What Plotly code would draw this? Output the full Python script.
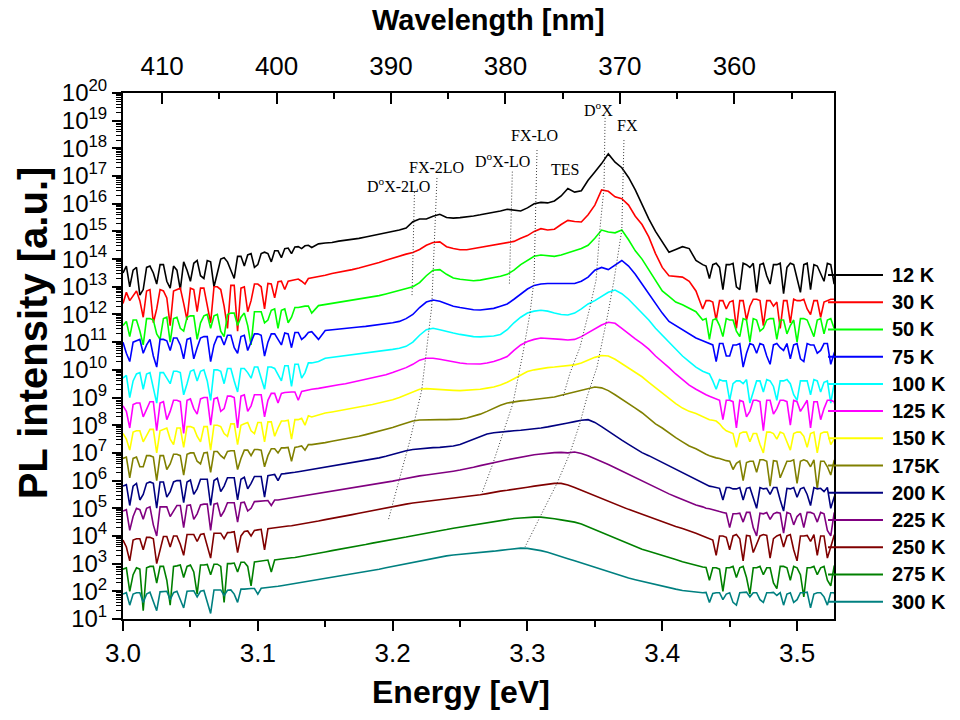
import plotly.graph_objects as go

# ---------------- data (log10 of PL intensity) ----------------
energy_ev = [round(3.0 + 0.005 * i, 3) for i in range(107)]
# extra read-out positions in the noisy low- and high-energy ends
energy_left_mid = [round(3.0025 + 0.005 * k, 4) for k in range(28)]
energy_right_mid = [round(3.4325 + 0.005 * k, 4) for k in range(20)]

temperatures = ["12 K", "30 K", "50 K", "75 K", "100 K", "125 K", "150 K",
                "175K", "200 K", "225 K", "250 K", "275 K", "300 K"]
colors = ["#000000", "#FF0000", "#00FF00", "#0000FF", "#00FFFF", "#FF00FF", "#FFFF00",
          "#808000", "#000080", "#800080", "#800000", "#008000", "#008080"]

log_12K = [13.5, 13.0, 13.7, 12.9, 13.75, 13.1, 13.8, 12.95, 13.6, 13.9,
           13.2, 13.95, 13.3, 13.9, 13.5, 14.05, 13.6, 14.1, 13.75, 14.2,
           13.8, 14.25, 13.9, 14.3, 14.38, 14.2, 14.45, 14.48, 14.42, 14.55,
           14.58, 14.6, 14.65, 14.68, 14.72, 14.75, 14.8, 14.85, 14.88, 14.95,
           15.0, 15.05, 15.12, 15.35, 15.45, 15.45, 15.55, 15.62, 15.5, 15.48,
           15.5, 15.52, 15.56, 15.6, 15.64, 15.68, 15.74, 15.8, 15.76, 15.74,
           15.85, 16.0, 16.05, 16.03, 16.1, 16.28, 16.55, 16.42, 16.47, 16.85,
           17.15, 17.45, 17.8, 17.5, 17.3, 16.95, 16.5, 15.95, 15.45, 15.0,
           14.6, 14.25, 14.35, 14.45, 14.38, 13.95, 13.8, 13.3, 13.85, 12.9,
           13.8, 13.0, 13.85, 13.7, 12.8, 13.85, 13.1, 13.8, 12.75, 13.85,
           13.3, 13.8, 12.9, 13.75, 13.2, 13.8, 13.6]
log_30K = [12.4, 12.5, 12.85, 11.9, 12.9, 12.2, 12.85, 11.6, 12.9, 12.4,
           12.95, 12.1, 12.95, 11.7, 13.0, 12.3, 13.05, 11.4, 13.0, 12.5,
           13.1, 12.2, 13.1, 13.18, 12.9, 13.22, 13.28, 13.1, 13.32, 13.38,
           13.42, 13.48, 13.52, 13.58, 13.62, 13.68, 13.74, 13.8, 13.88, 13.96,
           14.04, 14.12, 14.18, 14.24, 14.35, 14.5, 14.6, 14.62, 14.45, 14.38,
           14.34, 14.34, 14.38, 14.42, 14.46, 14.5, 14.55, 14.6, 14.64, 14.75,
           14.85, 15.0, 15.1, 15.05, 15.08, 15.25, 15.4, 15.36, 15.34, 15.6,
           15.95, 16.5, 16.45, 16.25, 16.18, 15.95, 15.55, 15.25, 14.8, 14.2,
           13.7, 13.4, 13.38, 13.35, 13.2, 12.85, 12.2, 12.5, 11.8, 12.5,
           12.45, 11.5, 12.5, 12.3, 12.55, 11.6, 12.5, 12.45, 12.5, 11.7,
           12.5, 12.55, 12.0, 12.5, 12.45, 12.55, 12.5]
log_50K = [11.6, 11.2, 11.8, 10.9, 11.85, 11.3, 11.85, 11.0, 11.9, 11.4,
           11.95, 11.1, 11.95, 11.5, 12.0, 11.2, 12.05, 11.6, 12.05, 10.9,
           12.1, 11.7, 12.15, 11.5, 12.2, 11.9, 12.25, 12.3, 12.05, 12.32,
           12.36, 12.4, 12.43, 12.46, 12.5, 12.54, 12.58, 12.62, 12.68, 12.74,
           12.8, 12.86, 12.92, 13.0, 13.15, 13.4, 13.6, 13.62, 13.45, 13.32,
           13.27, 13.24, 13.22, 13.24, 13.28, 13.32, 13.38, 13.45, 13.6, 13.8,
           13.95, 14.1, 14.15, 14.12, 14.1, 14.15, 14.22, 14.3, 14.38, 14.5,
           14.75, 15.05, 14.98, 14.95, 15.05, 14.7, 14.3, 14.0, 13.6, 13.25,
           12.85, 12.65, 12.45, 12.35, 12.22, 12.1, 11.8, 11.1, 11.85, 11.2,
           11.8, 11.4, 11.85, 11.0, 11.8, 11.5, 11.85, 11.1, 11.8, 11.6,
           11.0, 11.85, 11.5, 11.8, 11.3, 11.85, 11.7]
log_75K = [11.0, 10.3, 11.05, 10.6, 11.1, 10.1, 11.1, 10.7, 11.15, 10.4,
           11.15, 10.8, 11.2, 10.3, 11.2, 10.9, 11.25, 10.6, 11.25, 11.0,
           11.3, 10.5, 11.3, 11.1, 11.33, 10.8, 11.35, 11.2, 11.38, 11.1,
           11.42, 11.45, 11.47, 11.5, 11.52, 11.55, 11.57, 11.6, 11.63, 11.66,
           11.7, 11.75, 11.85, 12.0, 12.25, 12.45, 12.52, 12.48, 12.38, 12.3,
           12.25, 12.2, 12.17, 12.16, 12.18, 12.22, 12.3, 12.38, 12.55, 12.75,
           12.92, 13.05, 13.1, 13.12, 13.12, 13.11, 13.1, 13.12, 13.2, 13.35,
           13.6, 13.7, 13.62, 13.8, 13.95, 13.75, 13.45, 13.1, 12.75, 12.4,
           12.05, 11.75, 11.6, 11.45, 11.3, 11.15, 11.05, 10.95, 10.3, 10.95,
           10.5, 10.9, 10.1, 10.95, 10.6, 10.9, 10.2, 10.95, 10.7, 10.4,
           10.95, 10.3, 10.9, 10.6, 10.95, 10.2, 10.9]
log_100K = [9.7, 9.0, 9.85, 9.3, 9.9, 8.8, 9.9, 9.5, 9.95, 9.1,
            9.95, 9.6, 10.0, 8.9, 10.0, 9.5, 10.05, 9.2, 10.05, 9.7,
            10.1, 9.3, 10.1, 9.8, 10.15, 9.4, 10.2, 9.9, 10.25, 10.3,
            10.42, 10.45, 10.5, 10.52, 10.55, 10.58, 10.6, 10.63, 10.66, 10.7,
            10.74, 10.78, 10.85, 11.0, 11.25, 11.45, 11.5, 11.45, 11.38, 11.33,
            11.28, 11.24, 11.2, 11.19, 11.2, 11.22, 11.28, 11.45, 11.7, 11.9,
            12.05, 12.12, 12.15, 12.12, 12.05, 12.0, 11.98, 12.05, 12.2, 12.38,
            12.5, 12.65, 12.8, 12.88, 12.75, 12.55, 12.3, 12.05, 11.8, 11.5,
            11.25, 11.0, 10.75, 10.5, 10.3, 10.1, 9.95, 9.85, 9.3, 9.6,
            8.9, 9.6, 9.5, 8.8, 9.6, 9.2, 9.6, 8.9, 9.6, 9.5,
            8.9, 9.6, 9.1, 9.6, 9.55, 8.8, 9.6]
log_125K = [8.7, 7.9, 8.8, 8.3, 8.85, 7.8, 8.85, 8.5, 8.9, 7.7,
            8.95, 8.4, 9.0, 8.0, 9.0, 8.6, 9.05, 7.9, 9.1, 8.7,
            9.1, 8.3, 9.15, 8.8, 9.18, 9.2, 8.9, 9.25, 9.3, 9.33,
            9.38, 9.42, 9.46, 9.5, 9.55, 9.6, 9.65, 9.7, 9.75, 9.82,
            9.9, 9.98, 10.08, 10.2, 10.35, 10.42, 10.42, 10.38, 10.33, 10.28,
            10.25, 10.22, 10.21, 10.21, 10.25, 10.3, 10.38, 10.48, 10.7, 10.9,
            11.02, 11.1, 11.15, 11.14, 11.12, 11.1, 11.08, 11.1, 11.2, 11.35,
            11.5, 11.62, 11.72, 11.68, 11.5, 11.3, 11.12, 10.95, 10.75, 10.5,
            10.3, 10.08, 9.85, 9.65, 9.45, 9.3, 9.15, 9.05, 8.95, 8.2,
            8.9, 7.9, 8.85, 8.5, 8.9, 7.8, 8.9, 8.6, 8.9, 8.0,
            8.85, 8.7, 7.9, 8.85, 8.6, 8.9, 8.4]
log_150K = [7.7, 7.1, 7.8, 7.4, 7.85, 7.0, 7.85, 7.5, 7.9, 7.2,
            7.95, 7.6, 7.95, 7.1, 8.0, 7.7, 8.05, 7.3, 8.05, 7.8,
            8.1, 7.4, 8.12, 7.9, 8.15, 7.5, 8.2, 8.0, 8.3, 8.38,
            8.44, 8.48, 8.52, 8.56, 8.6, 8.65, 8.7, 8.75, 8.8, 8.86,
            8.92, 9.0, 9.1, 9.2, 9.3, 9.32, 9.3, 9.28, 9.27, 9.26,
            9.25, 9.26, 9.28, 9.3, 9.34, 9.38, 9.45, 9.55, 9.68, 9.82,
            9.94, 10.0, 10.05, 10.08, 10.1, 10.12, 10.15, 10.18, 10.25, 10.35,
            10.45, 10.52, 10.5, 10.38, 10.22, 10.05, 9.9, 9.75, 9.55, 9.35,
            9.15, 8.95, 8.78, 8.62, 8.5, 8.42, 8.3, 8.2, 8.15, 7.9,
            7.75, 7.2, 7.75, 7.4, 7.7, 7.0, 7.75, 7.5, 7.7, 7.1,
            7.75, 7.6, 7.7, 7.0, 7.75, 7.3, 7.7]
log_175K = [6.8, 6.1, 6.85, 6.5, 6.9, 6.0, 6.9, 6.6, 6.95, 6.2,
            7.0, 6.7, 7.0, 6.3, 7.05, 6.8, 7.08, 6.4, 7.1, 6.9,
            7.12, 6.5, 7.15, 7.0, 7.18, 6.7, 7.22, 7.1, 7.3, 7.33,
            7.37, 7.42, 7.46, 7.5, 7.55, 7.6, 7.66, 7.72, 7.78, 7.85,
            7.92, 8.0, 8.08, 8.15, 8.19, 8.2, 8.2, 8.2, 8.2, 8.2,
            8.22, 8.26, 8.32, 8.4, 8.5, 8.62, 8.72, 8.8, 8.85, 8.88,
            8.9, 8.93, 8.96, 8.98, 9.02, 9.08, 9.14, 9.2, 9.28, 9.34,
            9.38, 9.35, 9.25, 9.1, 8.95, 8.8, 8.62, 8.45, 8.25, 8.05,
            7.9, 7.72, 7.55, 7.4, 7.25, 7.15, 7.0, 6.9, 6.82, 6.75,
            6.7, 6.62, 6.0, 6.7, 6.3, 6.75, 5.8, 6.7, 6.4, 6.7,
            5.9, 6.75, 6.5, 5.7, 6.7, 6.2, 6.7]
log_200K = [5.8, 5.1, 5.9, 5.5, 5.95, 5.0, 5.95, 5.6, 6.0, 5.2,
            6.02, 5.7, 6.05, 5.1, 6.08, 5.8, 6.1, 5.3, 6.12, 5.9,
            6.15, 5.4, 6.2, 6.0, 6.25, 6.28, 6.32, 6.36, 6.4, 6.44,
            6.48, 6.52, 6.56, 6.6, 6.64, 6.68, 6.72, 6.76, 6.82, 6.88,
            6.95, 7.02, 7.08, 7.12, 7.15, 7.17, 7.19, 7.2, 7.22, 7.25,
            7.3, 7.4, 7.5, 7.6, 7.68, 7.73, 7.76, 7.78, 7.8, 7.82,
            7.84, 7.87, 7.9, 7.94, 7.98, 8.03, 8.08, 8.13, 8.18, 8.2,
            8.1, 7.95, 7.78, 7.6, 7.46, 7.31, 7.16, 7.01, 6.9, 6.78,
            6.66, 6.54, 6.42, 6.3, 6.17, 6.05, 5.92, 5.8, 5.75, 5.3,
            5.75, 5.7, 5.3, 5.75, 5.0, 5.7, 5.5, 5.75, 4.9, 5.7,
            5.4, 5.75, 5.1, 5.7, 5.6, 5.0, 5.7]
log_225K = [4.9, 4.2, 5.0, 4.6, 5.05, 4.0, 5.05, 4.7, 5.1, 4.3,
            5.12, 4.8, 5.15, 4.2, 5.18, 4.9, 5.2, 4.5, 5.22, 5.0,
            5.25, 5.27, 5.1, 5.3, 5.33, 5.36, 5.4, 5.44, 5.48, 5.52,
            5.56, 5.6, 5.64, 5.68, 5.72, 5.76, 5.8, 5.84, 5.88, 5.93,
            5.98, 6.03, 6.08, 6.13, 6.17, 6.2, 6.23, 6.26, 6.3, 6.34,
            6.38, 6.42, 6.48, 6.54, 6.6, 6.65, 6.7, 6.75, 6.8, 6.85,
            6.89, 6.93, 6.96, 6.99, 7.01, 7.02, 7.0, 7.03, 6.98, 6.9,
            6.8, 6.7, 6.58, 6.46, 6.34, 6.22, 6.1, 5.98, 5.86, 5.74,
            5.62, 5.52, 5.42, 5.32, 5.22, 5.12, 5.05, 4.98, 4.9, 4.85,
            4.3, 4.8, 4.5, 4.85, 4.0, 4.8, 4.6, 4.85, 4.1, 4.8,
            4.7, 4.3, 4.85, 4.5, 4.8, 4.0, 4.8]
log_250K = [3.85, 3.1, 3.9, 3.5, 3.95, 3.0, 3.98, 3.6, 4.0, 3.3,
            4.05, 3.8, 4.08, 3.2, 4.1, 3.9, 4.13, 3.4, 4.16, 4.0,
            4.22, 3.5, 4.28, 4.31, 4.34, 4.37, 4.4, 4.45, 4.49, 4.54,
            4.59, 4.63, 4.68, 4.73, 4.77, 4.82, 4.87, 4.91, 4.96, 5.01,
            5.05, 5.1, 5.15, 5.19, 5.22, 5.25, 5.28, 5.3, 5.33, 5.36,
            5.38, 5.42, 5.45, 5.49, 5.53, 5.58, 5.62, 5.65, 5.68, 5.72,
            5.76, 5.8, 5.84, 5.88, 5.9, 5.9, 5.84, 5.75, 5.65, 5.55,
            5.44, 5.35, 5.26, 5.16, 5.06, 4.96, 4.87, 4.78, 4.69, 4.6,
            4.5, 4.42, 4.34, 4.27, 4.19, 4.1, 4.0, 3.9, 3.3, 4.0,
            3.5, 4.05, 3.1, 4.0, 3.7, 4.05, 3.2, 4.0, 3.6, 4.05,
            3.1, 4.0, 3.8, 3.3, 4.0, 3.6, 4.0]
log_275K = [2.8, 2.0, 2.85, 1.3, 2.9, 2.3, 2.9, 1.5, 2.92, 2.5,
            2.95, 1.9, 2.95, 2.6, 2.98, 1.6, 3.0, 2.7, 3.05, 2.2,
            3.08, 3.11, 2.7, 3.15, 3.18, 3.21, 3.24, 3.29, 3.33, 3.38,
            3.42, 3.47, 3.51, 3.56, 3.6, 3.65, 3.69, 3.74, 3.78, 3.83,
            3.87, 3.92, 3.96, 4.01, 4.05, 4.1, 4.14, 4.19, 4.23, 4.28,
            4.32, 4.36, 4.4, 4.44, 4.49, 4.53, 4.57, 4.6, 4.63, 4.65,
            4.67, 4.68, 4.68, 4.66, 4.62, 4.58, 4.54, 4.5, 4.43, 4.33,
            4.22, 4.12, 4.01, 3.91, 3.82, 3.72, 3.63, 3.52, 3.45, 3.38,
            3.3, 3.22, 3.15, 3.07, 3.0, 2.94, 2.88, 2.4, 2.85, 2.0,
            2.85, 2.5, 2.9, 1.9, 2.85, 2.6, 2.85, 2.1, 2.9, 2.4,
            2.85, 1.8, 2.85, 2.6, 2.9, 2.2, 2.85]
log_300K = [1.9, 1.5, 1.95, 1.6, 1.97, 1.3, 2.0, 1.7, 2.0, 1.4,
            2.02, 1.8, 2.03, 1.2, 2.05, 1.85, 2.05, 1.6, 2.08, 2.1,
            1.9, 2.12, 2.15, 2.18, 2.22, 2.26, 2.3, 2.34, 2.38, 2.42,
            2.46, 2.5, 2.54, 2.58, 2.62, 2.66, 2.7, 2.75, 2.8, 2.85,
            2.9, 2.95, 3.0, 3.05, 3.1, 3.15, 3.2, 3.25, 3.28, 3.31,
            3.33, 3.35, 3.37, 3.39, 3.42, 3.45, 3.48, 3.51, 3.54, 3.56,
            3.55, 3.52, 3.47, 3.41, 3.34, 3.26, 3.18, 3.1, 3.02, 2.94,
            2.86, 2.78, 2.7, 2.62, 2.55, 2.48, 2.42, 2.36, 2.3, 2.24,
            2.18, 2.13, 2.08, 2.03, 2.0, 1.97, 1.95, 1.6, 1.95, 1.7,
            1.95, 1.5, 1.95, 1.8, 1.95, 1.6, 1.95, 1.85, 1.5, 1.95,
            1.7, 1.95, 1.4, 1.95, 1.8, 1.95, 1.6]

# values at the extra positions (energy_left_mid / energy_right_mid)
mid_left_12K = [13.75, 13.6, 12.7, 13.7, 13.5, 13.8, 13.2, 13.75, 12.9, 13.6,
                13.85, 13.4, 13.95, 13.0, 14.0, 13.9, 13.3, 14.1, 14.15, 13.7,
                14.2, 14.2, 14.3, 14.05, 14.4, 14.44, 14.38, 14.5]
mid_left_30K = [12.8, 12.7, 12.5, 12.85, 11.7, 12.9, 12.6, 12.85, 12.95, 11.8,
                12.9, 12.95, 12.3, 13.0, 12.9, 11.5, 13.05, 12.95, 12.1, 13.1,
                13.0, 13.12, 12.6, 13.2, 13.2, 13.25, 13.2, 13.3]
mid_left_50K = [11.75, 11.8, 11.4, 11.85, 11.8, 11.1, 11.9, 11.85, 11.5, 11.9,
                11.95, 11.7, 12.0, 11.95, 11.4, 12.0, 12.05, 11.9, 11.6, 12.1,
                12.1, 11.8, 12.2, 12.15, 11.7, 12.25, 12.28, 12.3]
mid_left_75K = [10.6, 11.0, 11.1, 10.9, 10.5, 11.1, 11.05, 11.15, 10.9, 11.1,
                10.4, 11.15, 11.2, 10.9, 11.2, 11.25, 10.8, 11.2, 10.7, 11.3,
                11.25, 11.0, 11.3, 10.9, 11.3, 11.35, 11.1, 11.35]
mid_left_100K = [9.8, 9.6, 9.9, 9.85, 9.4, 9.9, 9.7, 9.95, 9.9, 9.5,
                 10.0, 9.95, 9.6, 10.0, 9.95, 10.05, 9.6, 10.05, 9.9, 10.1,
                 9.7, 10.1, 10.05, 9.6, 10.15, 10.2, 9.7, 10.25]
mid_left_125K = [8.5, 8.75, 8.8, 8.6, 8.85, 8.8, 8.2, 8.9, 8.85, 8.9,
                 8.6, 8.95, 9.0, 8.95, 8.5, 9.05, 9.0, 9.05, 8.5, 9.1,
                 9.1, 8.9, 9.15, 9.15, 9.2, 9.2, 9.22, 9.28]
mid_left_150K = [7.5, 7.75, 7.8, 7.6, 7.85, 7.8, 7.9, 7.3, 7.9, 7.95,
                 7.9, 7.4, 7.95, 8.0, 7.95, 7.6, 8.05, 8.0, 8.1, 7.7,
                 8.1, 8.12, 7.6, 8.15, 8.18, 8.2, 8.25, 8.34]
mid_left_175K = [6.85, 6.8, 6.5, 6.9, 6.85, 6.9, 6.4, 6.95, 6.9, 6.95,
                 7.0, 6.6, 7.02, 7.05, 6.9, 7.05, 7.08, 6.8, 7.1, 7.12,
                 7.1, 6.9, 7.15, 7.18, 7.2, 7.2, 7.25, 7.3]
mid_left_200K = [5.85, 5.8, 5.3, 5.9, 5.9, 5.95, 5.4, 5.95, 6.0, 5.95,
                 5.5, 6.05, 6.05, 6.0, 5.6, 6.1, 6.1, 6.05, 5.7, 6.15,
                 6.15, 6.18, 6.22, 6.24, 6.26, 6.3, 6.34, 6.38]
mid_left_225K = [4.95, 4.7, 4.95, 5.0, 4.4, 5.05, 5.05, 4.9, 5.1, 5.1,
                 4.6, 5.12, 5.15, 5.15, 4.7, 5.2, 5.2, 5.2, 4.9, 5.24,
                 5.26, 5.28, 5.3, 5.32, 5.35, 5.38, 5.42, 5.46]
mid_left_250K = [3.6, 3.85, 3.9, 3.95, 3.9, 3.5, 3.98, 4.0, 3.7, 4.05,
                 4.05, 4.05, 3.6, 4.1, 4.1, 4.12, 4.15, 4.0, 4.18, 4.2,
                 4.24, 4.26, 4.3, 4.33, 4.36, 4.39, 4.42, 4.47]
mid_left_275K = [2.85, 2.6, 2.8, 2.85, 2.9, 2.9, 2.4, 2.9, 2.95, 2.9,
                 2.7, 2.95, 2.97, 2.98, 2.9, 3.0, 3.02, 3.05, 2.9, 3.06,
                 3.1, 3.13, 3.13, 3.17, 3.2, 3.22, 3.27, 3.31]
mid_left_300K = [1.95, 1.9, 1.95, 1.9, 1.6, 1.98, 2.0, 1.95, 1.7, 2.0,
                 2.02, 2.0, 1.6, 2.05, 2.05, 2.04, 1.9, 2.08, 2.1, 2.1,
                 2.11, 2.13, 2.16, 2.2, 2.24, 2.28, 2.32, 2.36]

mid_right_12K = [13.75, 13.8, 13.7, 13.8, 13.85, 12.9, 13.8, 13.85, 13.8, 13.4,
                 13.8, 13.85, 13.7, 13.8, 12.8, 13.85, 13.8, 13.5, 13.85, 13.1]
mid_right_30K = [12.5, 12.45, 12.5, 12.2, 12.5, 12.5, 11.8, 12.55, 12.5, 12.5,
                 12.3, 11.5, 12.5, 12.55, 12.5, 12.2, 12.5, 11.9, 12.5, 12.55]
mid_right_50K = [11.85, 11.8, 11.6, 11.85, 11.8, 11.2, 11.8, 11.85, 11.4, 11.8,
                 11.85, 11.8, 11.3, 11.8, 11.85, 11.8, 11.2, 11.85, 11.8, 11.5]
mid_right_75K = [11.0, 10.9, 10.95, 10.5, 10.9, 10.95, 10.6, 10.9, 10.95, 10.5,
                 10.9, 10.8, 10.95, 10.9, 10.4, 10.95, 10.9, 10.7, 10.95, 10.6]
mid_right_100K = [9.9, 9.6, 9.65, 9.6, 9.5, 9.6, 9.65, 9.2, 9.6, 9.65,
                  9.4, 9.6, 9.65, 9.1, 9.6, 9.6, 9.65, 9.2, 9.6, 9.5]
mid_right_125K = [9.1, 9.0, 8.9, 8.9, 8.85, 8.9, 8.3, 8.9, 8.85, 8.9,
                  8.4, 8.9, 8.85, 8.9, 8.5, 8.9, 8.85, 8.2, 8.9, 8.85]
mid_right_150K = [8.25, 8.18, 8.05, 7.8, 7.7, 7.7, 7.75, 7.7, 7.3, 7.75,
                  7.7, 7.75, 7.4, 7.7, 7.75, 7.2, 7.75, 7.7, 7.75, 7.5]
mid_right_175K = [6.95, 6.85, 6.8, 6.72, 6.4, 6.7, 6.65, 6.7, 6.75, 6.7,
                  6.72, 6.1, 6.7, 6.75, 6.7, 6.7, 6.75, 6.7, 6.5, 6.72]
mid_right_200K = [5.86, 5.78, 5.72, 5.75, 5.7, 5.75, 5.72, 5.4, 5.75, 5.72,
                  5.75, 5.3, 5.72, 5.75, 5.7, 5.5, 5.75, 5.72, 5.75, 5.4]
mid_right_225K = [5.0, 4.94, 4.88, 4.82, 4.8, 4.82, 4.85, 4.3, 4.82, 4.85,
                  4.8, 4.82, 4.85, 4.4, 4.82, 4.85, 4.8, 4.85, 4.2, 4.82]
mid_right_250K = [3.95, 3.85, 4.0, 3.95, 4.0, 3.9, 4.02, 3.4, 4.0, 4.02,
                  3.9, 4.05, 4.0, 3.5, 4.0, 4.02, 4.05, 4.0, 3.2, 4.02]
mid_right_275K = [2.86, 2.85, 2.8, 2.85, 2.9, 2.85, 2.5, 2.85, 2.9, 2.85,
                  2.3, 2.9, 2.85, 2.9, 2.6, 2.85, 2.9, 2.85, 2.4, 2.9]
mid_right_300K = [1.96, 1.92, 1.95, 1.9, 1.6, 1.95, 1.97, 1.95, 1.7, 1.95,
                  1.96, 1.95, 1.9, 1.6, 1.95, 1.97, 1.9, 1.95, 1.5, 1.95]

spectra_log = [log_12K, log_30K, log_50K, log_75K, log_100K, log_125K, log_150K,
               log_175K, log_200K, log_225K, log_250K, log_275K, log_300K]
mids_left = [mid_left_12K, mid_left_30K, mid_left_50K, mid_left_75K, mid_left_100K,
             mid_left_125K, mid_left_150K, mid_left_175K, mid_left_200K, mid_left_225K,
             mid_left_250K, mid_left_275K, mid_left_300K]
mids_right = [mid_right_12K, mid_right_30K, mid_right_50K, mid_right_75K, mid_right_100K,
              mid_right_125K, mid_right_150K, mid_right_175K, mid_right_200K, mid_right_225K,
              mid_right_250K, mid_right_275K, mid_right_300K]

# dotted guide lines through the peaks (energy eV, log10 intensity)
guide_dx2lo_E = [3.2162, 3.2144]
guide_dx2lo_L = [16.42, 12.70]
guide_fx2lo_E = [3.2329, 3.2290, 3.2216, 3.2129, 3.2042, 3.1968]
guide_fx2lo_L = [16.93, 12.28, 9.27, 7.46, 5.91, 4.57]
guide_dxlo_E = [3.2888, 3.2866]
guide_dxlo_L = [17.16, 13.06]
guide_fxlo_E = [3.3071, 3.3049, 3.3019, 3.2967, 3.2893, 3.2819, 3.2745, 3.2663]
guide_fxlo_L = [17.94, 13.24, 12.05, 10.61, 8.80, 7.72, 6.63, 5.55]
guide_dx_E = [3.3576, 3.3568, 3.3539, 3.3509, 3.3464, 3.3390, 3.3316, 3.3264]
guide_dx_L = [19.10, 16.57, 15.16, 13.24, 12.27, 10.82, 9.89, 9.02]
guide_fx_E = [3.3716, 3.3700, 3.3662, 3.3642, 3.3598, 3.3516, 3.3442, 3.3390, 3.3316,
              3.3220, 3.3093, 3.2982]
guide_fx_L = [18.30, 15.05, 13.86, 13.24, 12.05, 10.10, 9.02, 8.08, 7.0, 5.91, 4.68, 3.60]

peak_labels = ["D<sup>o</sup>X-2LO", "FX-2LO", "D<sup>o</sup>X-LO", "FX-LO", "TES",
               "D<sup>o</sup>X", "FX"]
peak_label_E = [3.2047, 3.2322, 3.2815, 3.3056, 3.3279, 3.3524, 3.3739]
peak_label_L = [16.68, 17.31, 17.58, 18.48, 17.25, 19.42, 18.84]

wavelength_ticks = [410, 400, 390, 380, 370, 360]
wavelength_minor = [405, 395, 385, 375, 365, 355]
energy_ticks = [3.0, 3.1, 3.2, 3.3, 3.4, 3.5]
decades = list(range(1, 21))

# ---------------- figure ----------------
SANS = "Liberation Sans, Arial, sans-serif"
SERIF = "Liberation Serif, Times New Roman, serif"

fig = go.Figure()

for name, col, vals, ml, mr in zip(temperatures, colors, spectra_log, mids_left, mids_right):
    pts = list(zip(energy_ev, vals)) + list(zip(energy_left_mid, ml)) + \
        list(zip(energy_right_mid, mr))
    pts.sort(key=lambda p: p[0])
    fig.add_trace(go.Scatter(
        x=[p[0] for p in pts], y=[10.0 ** p[1] for p in pts], mode="lines", name=name,
        line=dict(color=col, width=1.6), showlegend=False, hoverinfo="skip"))

for gE, gL in [(guide_dx2lo_E, guide_dx2lo_L), (guide_fx2lo_E, guide_fx2lo_L),
               (guide_dxlo_E, guide_dxlo_L), (guide_fxlo_E, guide_fxlo_L),
               (guide_dx_E, guide_dx_L), (guide_fx_E, guide_fx_L)]:
    fig.add_trace(go.Scatter(
        x=gE, y=[10.0 ** v for v in gL], mode="lines",
        line=dict(color="#404040", width=1, dash="1px,2px"),
        showlegend=False, hoverinfo="skip"))

# invisible trace so that the wavelength axis is drawn
fig.add_trace(go.Scatter(x=[wavelength_ticks[2]], y=[1e10], xaxis="x2", mode="markers",
                         marker=dict(opacity=0), showlegend=False, hoverinfo="skip"))

for txt, e, l in zip(peak_labels, peak_label_E, peak_label_L):
    fig.add_annotation(x=e, y=l, xref="x", yref="y", text=txt, showarrow=False,
                       font=dict(family=SERIF, size=16, color="black"),
                       xanchor="center", yanchor="middle")

# custom legend at the right
leg_y0 = 0.654
leg_dy = 0.05176
for k, (name, col) in enumerate(zip(temperatures, colors)):
    yk = leg_y0 - k * leg_dy
    fig.add_shape(type="line", xref="paper", yref="paper", x0=0.9916, x1=1.0689,
                  y0=yk, y1=yk, line=dict(color=col, width=2))
    fig.add_annotation(x=1.0788, y=yk, xref="paper", yref="paper", text="<b>%s</b>" % name,
                       showarrow=False, xanchor="left", yanchor="middle",
                       font=dict(family=SANS, size=20, color="black"))

# axis titles
fig.add_annotation(x=0.4754, y=-0.1388, xref="paper", yref="paper", text="<b>Energy [eV]</b>",
                   showarrow=False, xanchor="center", yanchor="middle",
                   font=dict(family=SANS, size=32, color="black"))
fig.add_annotation(x=0.5134, y=1.1388, xref="paper", yref="paper", text="<b>Wavelength [nm]</b>",
                   showarrow=False, xanchor="center", yanchor="middle",
                   font=dict(family=SANS, size=29, color="black"))
fig.add_annotation(x=-0.1266, y=0.545, xref="paper", yref="paper", text="<b>PL intensity [a.u.]</b>",
                   showarrow=False, xanchor="center", yanchor="middle", textangle=-90,
                   font=dict(family=SANS, size=40, color="black"))

minor_y = [float(m) * 10.0 ** d for d in range(1, 20) for m in range(2, 10)]

fig.update_layout(
    width=960, height=720,
    margin=dict(l=123, r=126, t=93, b=101),
    paper_bgcolor="white", plot_bgcolor="white",
    font=dict(family=SANS, color="black"),
    xaxis=dict(range=[3.0, 3.5274], tickvals=energy_ticks,
               ticktext=["%.1f" % v for v in energy_ticks],
               ticks="outside", ticklen=10, tickwidth=2, tickcolor="black",
               minor=dict(dtick=0.05, tick0=3.0, ticks="outside", ticklen=6, tickwidth=2,
                          tickcolor="black"),
               showline=True, linewidth=2, linecolor="black", mirror=False,
               showgrid=False, zeroline=False,
               tickfont=dict(family=SANS, size=26, color="black")),
    xaxis2=dict(overlaying="x", side="top", anchor="y", range=[413.42, 351.29],
                tickvals=wavelength_ticks, ticktext=[str(v) for v in wavelength_ticks],
                ticks="inside", ticklen=11, tickwidth=2, tickcolor="black",
                minor=dict(tickvals=wavelength_minor, ticks="inside", ticklen=6, tickwidth=2,
                           tickcolor="black"),
                ticklabelstandoff=6,
                showline=True, linewidth=2, linecolor="black",
                showgrid=False, zeroline=False,
                tickfont=dict(family=SANS, size=26, color="black")),
    yaxis=dict(type="log", range=[1, 20],
               tickvals=[10.0 ** d for d in decades],
               ticktext=["10<sup>%d</sup>" % d for d in decades],
               ticks="outside", ticklen=9, tickwidth=2, tickcolor="black",
               minor=dict(tickvals=minor_y, ticks="outside", ticklen=5, tickwidth=1,
                          tickcolor="black"),
               showline=True, linewidth=2, linecolor="black", mirror=True,
               showgrid=False, zeroline=False,
               tickfont=dict(family=SANS, size=24, color="black")),
)

fig.write_html("out.html")
